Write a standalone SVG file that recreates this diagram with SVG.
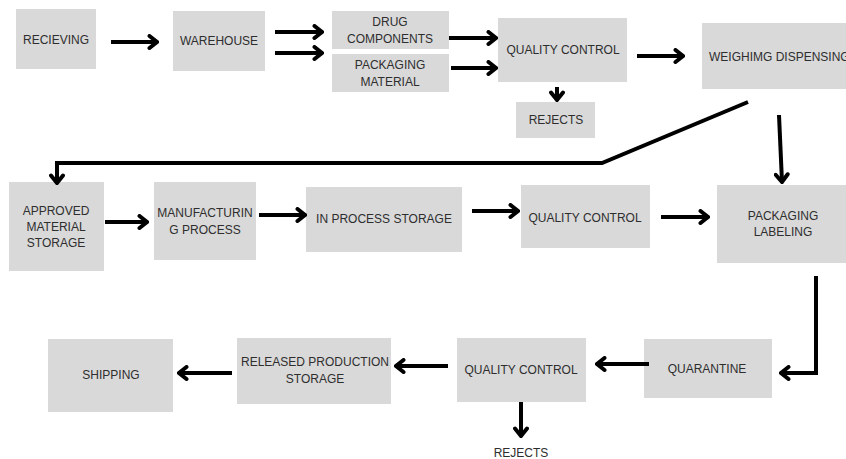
<svg xmlns="http://www.w3.org/2000/svg" width="846" height="459" viewBox="0 0 846 459">
<style>
.box{fill:#d9d9d9}
.t{font-family:"Liberation Sans",Arial,sans-serif;font-size:12px;fill:#2e2e2e;text-anchor:middle}
.c{fill:none;stroke:#000;stroke-width:4;stroke-linejoin:miter}
</style>
<defs>
<marker id="ah" viewBox="0 0 12 16" refX="10" refY="8" markerWidth="12" markerHeight="16" markerUnits="userSpaceOnUse" orient="auto">
<path d="M2.5,2 L10,8 L2.5,14" fill="none" stroke="#000" stroke-width="4" stroke-linecap="round"/>
</marker>
</defs>
<rect width="846" height="459" fill="#fff"/>
<g id="recieving"><rect class="box" x="16" y="9" width="80" height="60"/><text class="t" x="56" y="44">RECIEVING</text></g>
<g id="warehouse"><rect class="box" x="173" y="11" width="92" height="60"/><text class="t" x="219" y="45">WAREHOUSE</text></g>
<g id="drug"><rect class="box" x="332" y="11" width="117" height="38"/><text class="t" x="390" y="26">DRUG</text><text class="t" x="390" y="43">COMPONENTS</text></g>
<g id="packmat"><rect class="box" x="332" y="54" width="117" height="38"/><text class="t" x="390" y="69">PACKAGING</text><text class="t" x="390" y="86">MATERIAL</text></g>
<g id="qc1"><rect class="box" x="498" y="18" width="129" height="64"/><text class="t" x="563" y="54">QUALITY CONTROL</text></g>
<g id="rejects1"><rect class="box" x="516" y="102" width="79" height="36"/><text class="t" x="556" y="124">REJECTS</text></g>
<g id="weighing"><rect class="box" x="702" y="23" width="144" height="66"/><text class="t" x="709" y="61" style="text-anchor:start">WEIGHIMG DISPENSING</text></g>
<g id="approved"><rect class="box" x="9" y="182" width="95" height="89"/><text class="t" x="56" y="215">APPROVED</text><text class="t" x="56" y="231">MATERIAL</text><text class="t" x="56" y="247">STORAGE</text></g>
<g id="manufacturing"><rect class="box" x="154" y="182" width="102" height="78"/><text class="t" x="205" y="217">MANUFACTURIN</text><text class="t" x="205" y="234">G PROCESS</text></g>
<g id="inprocess"><rect class="box" x="306" y="187" width="156" height="65"/><text class="t" x="384" y="223">IN PROCESS STORAGE</text></g>
<g id="qc2"><rect class="box" x="521" y="185" width="129" height="63"/><text class="t" x="585" y="222">QUALITY CONTROL</text></g>
<g id="packlabel"><rect class="box" x="717" y="185" width="129" height="78"/><text class="t" x="783" y="220">PACKAGING</text><text class="t" x="783" y="236">LABELING</text></g>
<g id="quarantine"><rect class="box" x="644" y="339" width="128" height="59"/><text class="t" x="707" y="373">QUARANTINE</text></g>
<g id="qc3"><rect class="box" x="457" y="338" width="129" height="64"/><text class="t" x="521" y="374">QUALITY CONTROL</text></g>
<g id="released"><rect class="box" x="237" y="338" width="154" height="66"/><text class="t" x="315" y="366">RELEASED PRODUCTION</text><text class="t" x="315" y="383">STORAGE</text></g>
<g id="shipping"><rect class="box" x="48" y="339" width="125" height="73"/><text class="t" x="111" y="379">SHIPPING</text></g>
<g id="rejects2"><text class="t" x="521" y="457">REJECTS</text></g>
<g id="connectors">
<path class="c" marker-end="url(#ah)" d="M111,42 L157,42"/>
<path class="c" marker-end="url(#ah)" d="M275,32 L322,32"/>
<path class="c" marker-end="url(#ah)" d="M275,53 L322,53"/>
<path class="c" marker-end="url(#ah)" d="M449,38 L496,38"/>
<path class="c" marker-end="url(#ah)" d="M451,68 L496,68"/>
<path class="c" marker-end="url(#ah)" d="M557,87 L557,100"/>
<path class="c" marker-end="url(#ah)" d="M637,56 L683,56"/>
<path class="c" marker-end="url(#ah)" d="M748,102 L602,163 L57,163 L57,183"/>
<path class="c" marker-end="url(#ah)" d="M779,115 L782,182"/>
<path class="c" marker-end="url(#ah)" d="M105,222 L147,222"/>
<path class="c" marker-end="url(#ah)" d="M259,215 L305,215"/>
<path class="c" marker-end="url(#ah)" d="M472,211 L518,211"/>
<path class="c" marker-end="url(#ah)" d="M661,217 L708,217"/>
<path class="c" marker-end="url(#ah)" d="M816,276 L816,373 L781,373"/>
<path class="c" marker-end="url(#ah)" d="M649,364 L597,364"/>
<path class="c" marker-end="url(#ah)" d="M448,366 L396,366"/>
<path class="c" marker-end="url(#ah)" d="M232,373 L179,373"/>
<path class="c" marker-end="url(#ah)" d="M521,402 L521,436"/>
</g>
</svg>
